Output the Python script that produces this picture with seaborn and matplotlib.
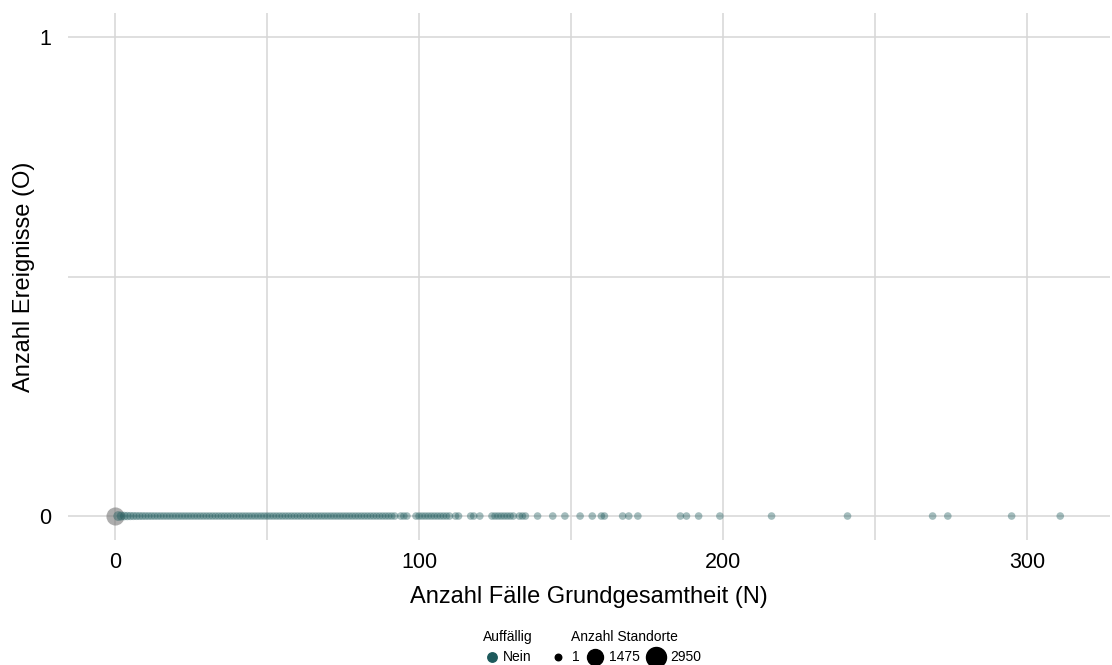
import pandas as pd
import seaborn as sns
import matplotlib.pyplot as plt
from matplotlib.lines import Line2D


# Daten: Anzahl Fälle (N), Anzahl Ereignisse (O), Anzahl Standorte

n_dicht = [1, 2, 3, 4, 5, 6, 7, 8, 9, 10, 11, 12, 13, 14, 15, 16, 17, 18, 19, 20,
           21, 22, 23, 24, 25, 26, 27, 28, 29, 30, 31, 32, 33, 34, 35, 36, 37, 38, 39, 40,
           41, 42, 43, 44, 45, 46, 47, 48, 49, 50, 51, 52, 53, 54, 55, 56, 57, 58, 59, 60,
           61, 62, 63, 64, 65, 66, 67, 68, 69, 70, 71, 72, 73, 74, 75, 76, 77, 78, 79, 80,
           81, 82, 83, 84, 85, 86, 87, 88, 89, 90, 91, 92]
n_einzeln = [94, 95, 96, 99, 100, 101, 102, 103, 104, 105, 106, 107, 108, 109, 110,
             112, 113, 117, 118, 120, 124, 125, 126, 127, 128, 129, 130, 131, 133, 134, 135,
             139, 144, 148, 153, 157, 160, 161, 167, 169, 172, 186, 188, 192, 199,
             216, 241, 269, 274, 295, 311]

standorte_dicht = [420, 260, 180, 140, 110, 90, 75, 65, 55, 48, 42, 38, 34, 30, 27, 25, 23, 21, 19, 18,
                   17, 16, 15, 14, 13, 12, 11, 10, 10, 9, 9, 8, 8, 7, 7, 7, 6, 6, 6, 5,
                   5, 5, 5, 4, 4, 4, 4, 4, 3, 3, 3, 3, 3, 3, 3, 2, 2, 2, 2, 2,
                   2, 2, 2, 2, 2, 2, 2, 2, 2, 1, 1, 1, 1, 1, 1, 1, 1, 1, 1, 1,
                   1, 1, 1, 1, 1, 1, 1, 1, 1, 1, 1, 1]
standorte_einzeln = [1] * len(n_einzeln)

# Standorte mit N = 0 (kein Auffällig-Wert)
n_null = [0]
standorte_null = [2950]

df = pd.DataFrame({
    "N": n_dicht + n_einzeln,
    "O": 0,
    "Standorte": standorte_dicht + standorte_einzeln,
    "Auffällig": "Nein",
})
df_null = pd.DataFrame({"N": n_null, "O": 0, "Standorte": standorte_null})

groessen = (30, 170)
norm = (1, 2950)
teal = "#1d5a5c"

sns.set_style("white")
plt.rcParams["font.family"] = ["Liberation Sans", "DejaVu Sans"]
plt.rcParams["text.color"] = "black"
plt.rcParams["axes.labelcolor"] = "black"
plt.rcParams["xtick.color"] = "black"
plt.rcParams["ytick.color"] = "black"

fig = plt.figure(figsize=(11.12, 6.65), dpi=100)
ax = fig.add_axes([0.0612, 0.188, 0.9368, 0.792])

sns.scatterplot(data=df_null, x="N", y="O", size="Standorte", sizes=groessen,
                size_norm=norm, color="#777777", alpha=0.6, linewidth=0,
                legend=False, ax=ax, zorder=3)
sns.scatterplot(data=df, x="N", y="O", size="Standorte", sizes=groessen,
                size_norm=norm, color=teal, alpha=0.4, linewidth=0,
                legend=False, ax=ax, zorder=3)

ax.set_xlim(-15.5, 327.3)
ax.set_ylim(-0.05, 1.05)
ax.set_xticks([0, 100, 200, 300])
ax.set_xticks([50, 150, 250], minor=True)
ax.set_yticks([0, 1])
ax.set_yticks([0.5], minor=True)
ax.grid(True, which="both", color="#d6d6d6", linewidth=1.1)
ax.set_axisbelow(True)
for s in ax.spines.values():
    s.set_visible(False)
ax.tick_params(which="both", length=0, labelsize=15.5, pad=9)
ax.tick_params(axis="y", pad=12)

ax.set_xlabel("Anzahl Fälle Grundgesamtheit (N)", fontsize=17, labelpad=9)
ax.set_ylabel("Anzahl Ereignisse (O)", fontsize=17, labelpad=3)

# Legenden unten
h_farbe = [Line2D([], [], marker="o", linestyle="", color=teal, markersize=6.8)]
leg1 = fig.legend(h_farbe, ["Nein"], title="Auffällig", loc="lower center",
                  bbox_to_anchor=(0.457, -0.018), frameon=False, fontsize=10,
                  title_fontsize=10, handlelength=1.0, handletextpad=0.29)

h_groesse = [Line2D([], [], marker="o", linestyle="", color="black", markersize=ms)
             for ms in (4.7, 11.5, 14.4)]
leg2 = fig.legend(h_groesse, ["1", "1475", "2950"], title="Anzahl Standorte",
                  loc="lower center", bbox_to_anchor=(0.5616, -0.018), ncol=3,
                  frameon=False, fontsize=10, title_fontsize=10, handlelength=1.44,
                  handletextpad=0.29, columnspacing=0.43)

plt.savefig("out.png", dpi=100)
